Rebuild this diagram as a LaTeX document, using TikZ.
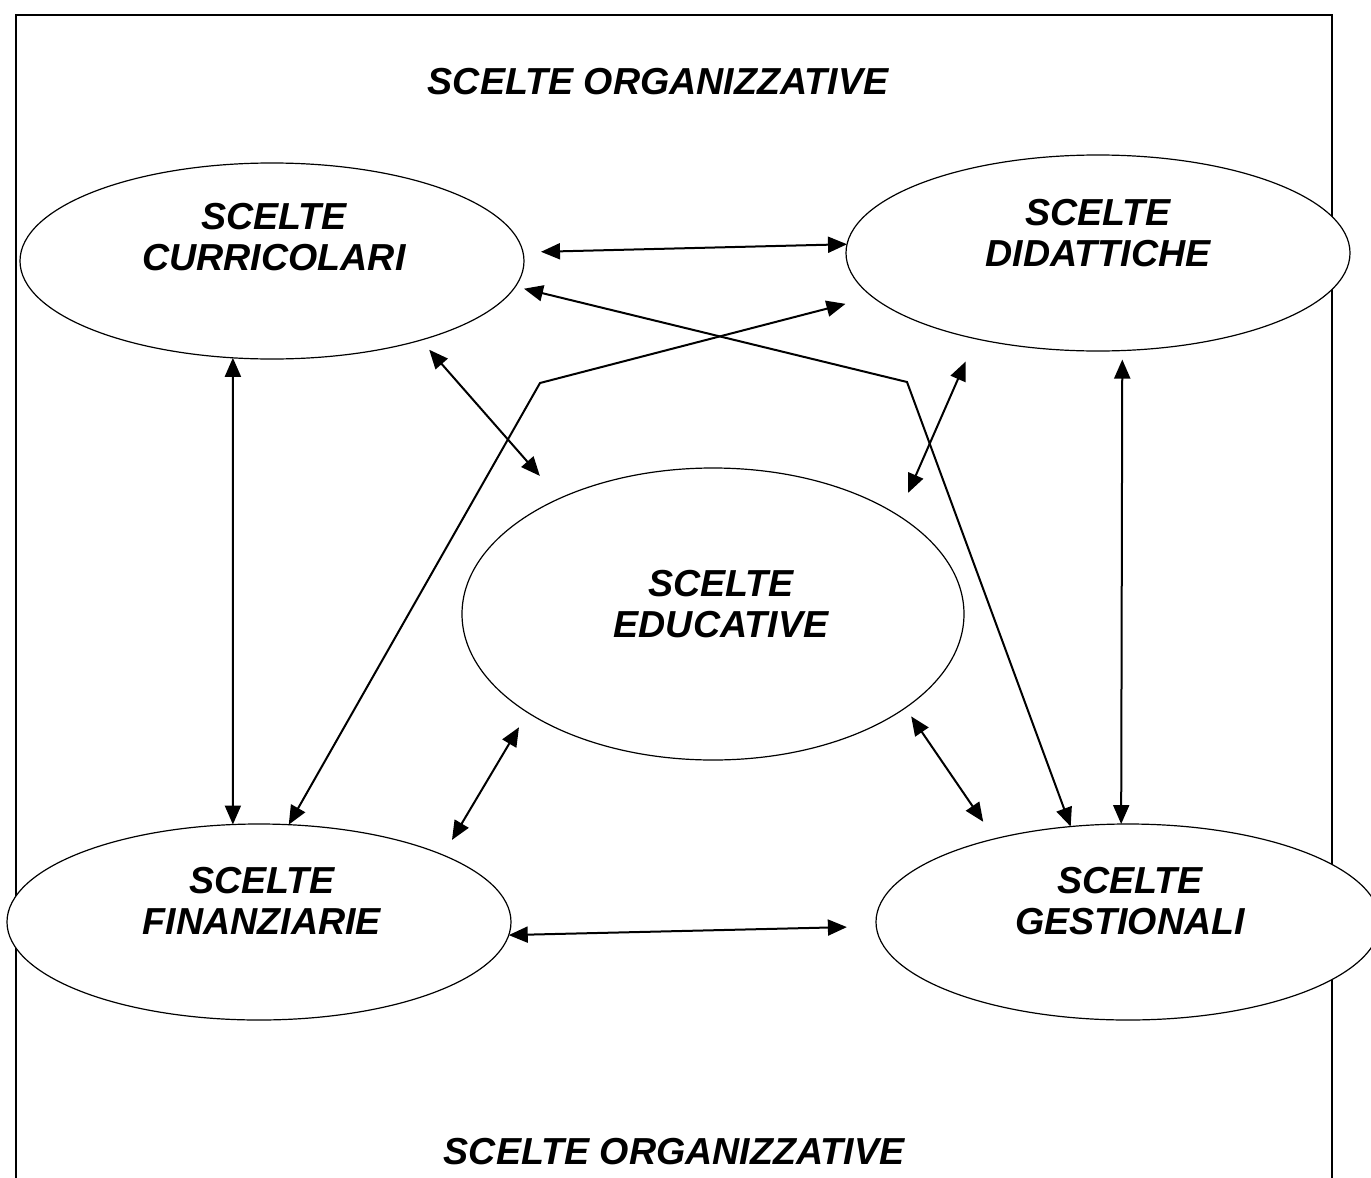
\documentclass[tikz,border=0pt]{standalone}
\usepackage{fontspec}
\setmainfont{Liberation Sans}
\usetikzlibrary{shapes.geometric, arrows.meta}

\begin{document}
\begin{tikzpicture}[x=0.5pt,y=-0.5pt,
  choice/.style={draw, ellipse, fill=white, line width=0.6pt, inner sep=0pt, outer sep=0pt, minimum width=252pt, minimum height=98pt},
  lbl/.style={font=\fontsize{18.8}{20.5}\selectfont\bfseries\itshape, align=center, inner sep=0pt},
  link/.style={line width=1pt, {Triangle[length=9.5pt,width=8pt]}-{Triangle[length=9.5pt,width=8pt]}}]
\useasboundingbox (0,0) rectangle (1371,1178);

%Frame
\draw[line width=1pt] (16,1178) -- (16,15) -- (1332,15) -- (1332,1178);

%Ellipses
\node[choice] (curr) at (272,261) {};
\node[choice] (dida) at (1098,253) {};
\node[choice, minimum width=251pt, minimum height=146pt] (edu) at (713,614) {};
\node[choice] (fin) at (259,922) {};
\node[choice] (gest) at (1128,922) {};

% Text Node
\node[lbl] (titleTop) at (658,82) {SCELTE ORGANIZZATIVE};
% Text Node
\node[lbl] (titleBot) at (674,1152) {SCELTE ORGANIZZATIVE};
% Text Node
\node[lbl] (currText) at (274,237) {SCELTE\\CURRICOLARI};
% Text Node
\node[lbl] (didaText) at (1098,233) {SCELTE\\DIDATTICHE};
% Text Node
\node[lbl] (eduText) at (721,604) {SCELTE\\EDUCATIVE};
% Text Node
\node[lbl] (finText) at (262,901) {SCELTE\\FINANZIARIE};
% Text Node
\node[lbl] (gestText) at (1130,901) {SCELTE\\GESTIONALI};

%Bends of the two long lines
\coordinate (bendL) at (540,383);
\coordinate (bendR) at (907,382);

%Connectors
\draw[link, shorten <=9pt] (curr.2) -- (dida.178);
\draw[link, shorten <=4.5pt] (curr.-6) -- (bendR) -- (gest.121);
\draw[link, shorten >=14pt] (fin.73) -- (bendL) -- (dida.191);
\draw[link, shorten <=6.4pt, shorten >=15pt] (curr.-28) -- (edu.143);
\draw[link, shorten <=12.5pt, shorten >=12.4pt] (dida.215) -- (edu.28);
\draw[link] (curr.248) -- (fin.105);
\draw[link, shorten <=4.5pt] (dida.-76) -- (gest.94);
\draw[link, shorten <=8.6pt, shorten >=8.8pt] (edu.208) -- (fin.20);
\draw[link, shorten <=5.2pt, shorten >=10.3pt] (edu.-26) -- (gest.148);
\draw[link, shorten >=14.7pt] (fin.-3) -- (gest.181);

\end{tikzpicture}
\end{document}
